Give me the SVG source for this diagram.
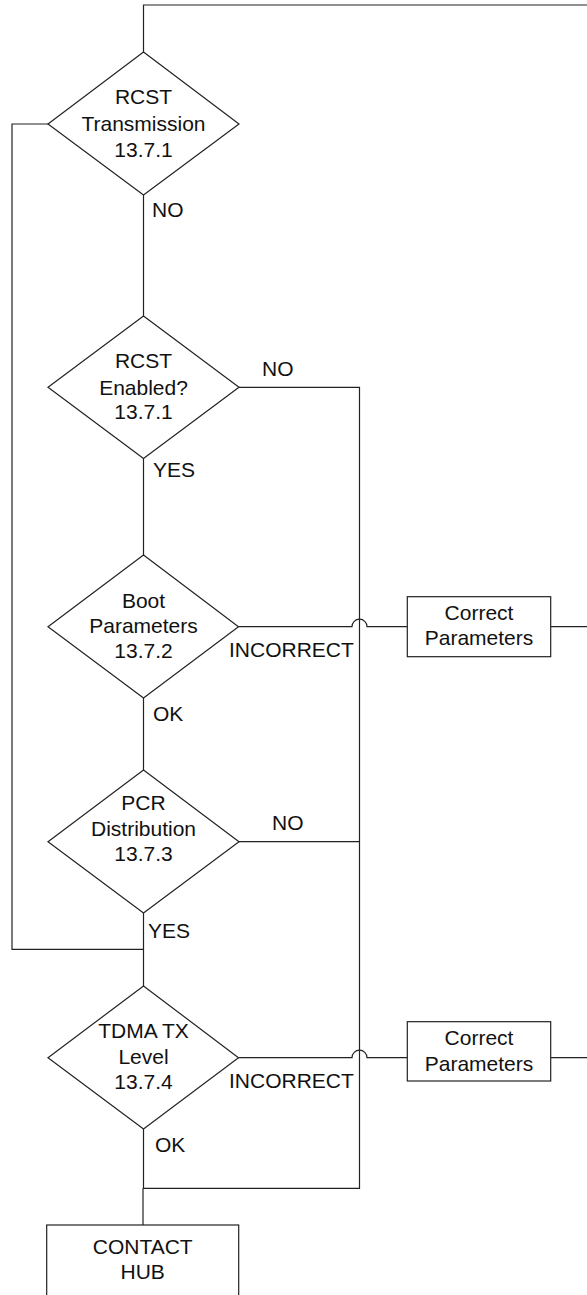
<svg xmlns="http://www.w3.org/2000/svg" width="587" height="1295" viewBox="0 0 587 1295">
<style>
.s{fill:#fff;stroke:#222;stroke-width:1.2}
.c{fill:none;stroke:#222;stroke-width:1.2}
text{font-family:"Liberation Sans",Arial,sans-serif;font-size:21px;fill:#111}
.m{text-anchor:middle}
</style>
<rect width="587" height="1295" fill="#fff"/>
<g id="connectors">
<path class="c" d="M143.5,52 V5 H587"/>
<path class="c" d="M48,124 H12 V949.3 H143.5"/>
<path class="c" d="M143.5,195 V316"/>
<path class="c" d="M143.5,458.5 V555"/>
<path class="c" d="M143.5,698 V770"/>
<path class="c" d="M143.5,913 V986"/>
<path class="c" d="M143.5,1129 V1188.3 M143,1188.3 V1225"/>
<path class="c" d="M239,387.3 H359.5 V1188.3 H143"/>
<path class="c" d="M239,841.7 H359.5"/>
<path class="c" d="M238.5,626.7 H352 A7.5,7.5 0 0 1 367,626.7 H407.3"/>
<path class="c" d="M550.7,626.7 H587"/>
<path class="c" d="M238.5,1057.7 H352 A7.5,7.5 0 0 1 367,1057.7 H407.3"/>
<path class="c" d="M550.7,1057.7 H587"/>
<text x="152" y="217">NO</text>
<text x="262" y="376">NO</text>
<text x="153" y="477">YES</text>
<text x="229" y="657">INCORRECT</text>
<text x="153" y="721">OK</text>
<text x="272" y="830">NO</text>
<text x="148" y="938">YES</text>
<text x="229" y="1088">INCORRECT</text>
<text x="155" y="1152">OK</text>
</g>
<g id="d1">
<polygon class="s" points="143.5,52 239,124 143.5,195 48,124"/>
<text class="m" x="143.5" y="104">RCST</text>
<text class="m" x="143.5" y="131">Transmission</text>
<text class="m" x="143.5" y="157">13.7.1</text>
</g>
<g id="d2">
<polygon class="s" points="143.5,316 239,387.3 143.5,458.5 48,387.3"/>
<text class="m" x="143.5" y="368">RCST</text>
<text class="m" x="143.5" y="395">Enabled?</text>
<text class="m" x="143.5" y="419">13.7.1</text>
</g>
<g id="d3">
<polygon class="s" points="143.5,555 238.5,626.7 143.5,698 48,626.7"/>
<text class="m" x="143.5" y="608">Boot</text>
<text class="m" x="143.5" y="633">Parameters</text>
<text class="m" x="143.5" y="658">13.7.2</text>
</g>
<g id="d4">
<polygon class="s" points="143.5,770 239,841.7 143.5,913 48,841.7"/>
<text class="m" x="143.5" y="810">PCR</text>
<text class="m" x="143.5" y="836">Distribution</text>
<text class="m" x="143.5" y="861">13.7.3</text>
</g>
<g id="d5">
<polygon class="s" points="143.5,986 238.5,1057.7 143.5,1129 48,1057.7"/>
<text class="m" x="143.5" y="1038">TDMA TX</text>
<text class="m" x="143.5" y="1064">Level</text>
<text class="m" x="143.5" y="1089">13.7.4</text>
</g>
<g id="b1">
<rect class="s" x="407.3" y="596.7" width="143.4" height="60"/>
<text class="m" x="479" y="620">Correct</text>
<text class="m" x="479" y="645">Parameters</text>
</g>
<g id="b2">
<rect class="s" x="407.3" y="1021.7" width="143.4" height="59.3"/>
<text class="m" x="479" y="1045">Correct</text>
<text class="m" x="479" y="1071">Parameters</text>
</g>
<g id="hub">
<rect class="s" x="46.7" y="1225" width="192" height="90"/>
<text class="m" x="142.7" y="1254">CONTACT</text>
<text class="m" x="142.7" y="1279">HUB</text>
</g>
</svg>
